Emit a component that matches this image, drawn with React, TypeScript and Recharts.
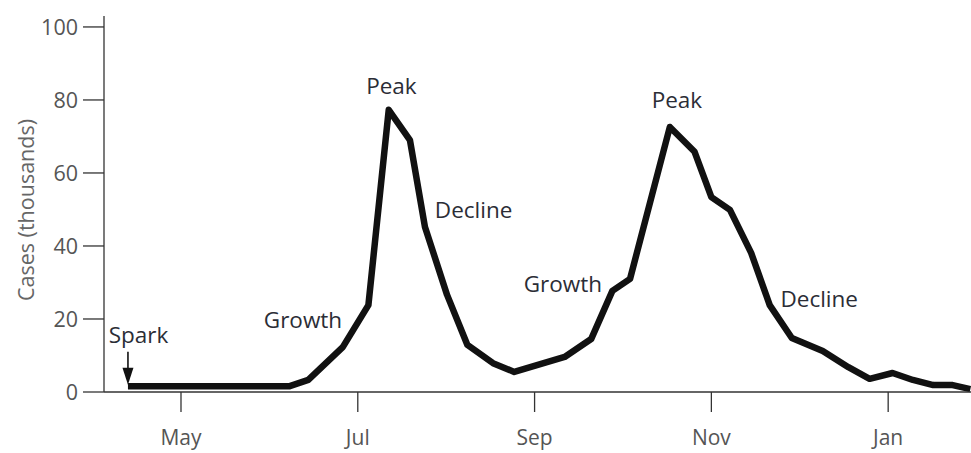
import React from 'react';
import { LineChart, Line, XAxis, YAxis, ReferenceDot, Label } from 'recharts';

// x position in months (May = 5, Jul = 7, ..., Jan = 13)
const monthPos = [4.40, 4.63, 4.86, 5.09, 5.32, 5.55, 5.78, 6.01, 6.23, 6.44, 6.83, 7.12, 7.35, 7.59, 7.76, 8.01, 8.24, 8.53, 8.77, 9.34, 9.64, 9.88, 10.08, 10.53, 10.81, 11.0, 11.21, 11.45, 11.66, 11.91, 12.26, 12.55, 12.79, 13.05, 13.28, 13.51, 13.73, 13.93];
const cases = [1.6, 1.6, 1.6, 1.6, 1.6, 1.6, 1.6, 1.6, 1.6, 3.3, 12.3, 23.8, 77.3, 69.0, 45.2, 26.6, 12.9, 7.9, 5.5, 9.6, 14.5, 27.7, 31.0, 72.6, 65.8, 53.4, 49.9, 38.1, 23.8, 14.8, 11.2, 6.8, 3.6, 5.2, 3.3, 1.9, 1.9, 0.8];

const tickMonths = [5, 7, 9, 11, 13];
const tickLabels = ['May', 'Jul', 'Sep', 'Nov', 'Jan'];
const yTicks = [0, 20, 40, 60, 80, 100];

const annotationText = ['Spark', 'Growth', 'Peak', 'Decline', 'Growth', 'Peak', 'Decline'];
const annotationX = [4.52, 6.38, 7.38, 8.31, 9.32, 10.61, 12.22];
const annotationY = [15.6, 19.7, 83.8, 49.9, 29.6, 80.0, 25.5];

const sparkArrow = { x: 4.40, y: 6.4 };

const data = monthPos.map((m, i) => ({ m, cases: cases[i] }));

const FONT = '"Open Sans", sans-serif';

const Arrow = (props: any) => {
  const { cx, cy } = props;
  if (cx == null || cy == null) return null;
  return (
    <g>
      <line x1={cx} y1={cy - 17} x2={cx} y2={cy + 4} stroke="#111" strokeWidth={1.6} />
      <path d={`M ${cx - 5.5} ${cy - 1} L ${cx + 5.5} ${cy - 1} L ${cx} ${cy + 16} Z`} fill="#111" />
    </g>
  );
};

export default function App() {
  return (
    <div style={{ position: 'absolute', left: 0, top: 0, background: '#fff' }}>
      <LineChart width={971} height={453} data={data} margin={{ top: 16, right: 0, bottom: 0, left: 0 }}>
        <XAxis
          dataKey="m"
          type="number"
          domain={[4.129, 13.937]}
          allowDataOverflow
          ticks={tickMonths}
          tickFormatter={(v: number) => tickLabels[tickMonths.indexOf(v)] ?? ''}
          height={61}
          tickSize={20}
          tickMargin={18}
          axisLine={{ stroke: '#333', strokeWidth: 1.3 }}
          tickLine={{ stroke: '#333', strokeWidth: 1.3 }}
          tick={{ fill: '#555', fontSize: 21, fontFamily: FONT }}
        />
        <YAxis
          type="number"
          domain={[0, 103]}
          ticks={yTicks}
          width={104}
          tickSize={21}
          tickMargin={5}
          axisLine={{ stroke: '#333', strokeWidth: 1.3 }}
          tickLine={{ stroke: '#333', strokeWidth: 1.3 }}
          tick={{ fill: '#555', fontSize: 21.5, fontFamily: FONT }}
        >
          <Label
            content={() => (
              <text
                x={25}
                y={210}
                transform="rotate(-90 25 210)"
                textAnchor="middle"
                dominantBaseline="central"
                fill="#666"
                fontSize={21.5}
                fontFamily={FONT}
              >
                Cases (thousands)
              </text>
            )}
          />
        </YAxis>
        <Line
          dataKey="cases"
          type="linear"
          dot={false}
          stroke="#111"
          strokeWidth={6.5}
          strokeLinejoin="round"
          isAnimationActive={false}
        />
        <ReferenceDot x={sparkArrow.x} y={sparkArrow.y} r={0} ifOverflow="visible" shape={Arrow} />
        {annotationText.map((t, i) => (
          <ReferenceDot
            key={i}
            x={annotationX[i]}
            y={annotationY[i]}
            r={0}
            ifOverflow="visible"
            fill="none"
            stroke="none"
            label={{ value: t, position: 'center', fill: '#2b2d36', fontSize: 22.5, fontFamily: FONT }}
          />
        ))}
      </LineChart>
    </div>
  );
}
